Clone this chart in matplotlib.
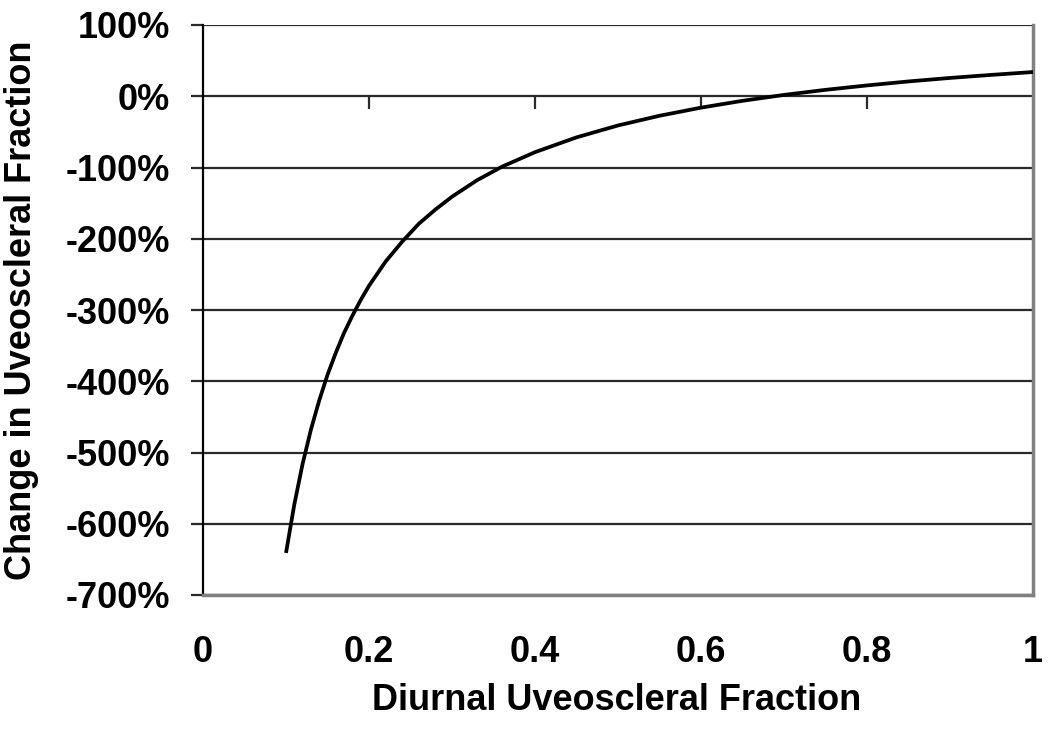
import matplotlib
matplotlib.use("Agg")
import matplotlib.pyplot as plt

# Data
x_frac = [0.10, 0.11, 0.12, 0.13, 0.14, 0.15, 0.16, 0.17, 0.18, 0.19, 0.20,
          0.22, 0.24, 0.26, 0.28, 0.30, 0.33, 0.36, 0.40, 0.45, 0.50, 0.55,
          0.60, 0.65, 0.70, 0.75, 0.80, 0.85, 0.90, 0.95, 1.00]
y_change = [-6.41, -5.73, -5.16, -4.68, -4.27, -3.91, -3.60, -3.32, -3.08, -2.86, -2.66,
            -2.32, -2.04, -1.79, -1.59, -1.41, -1.18, -0.99, -0.785, -0.577, -0.41, -0.274,
            -0.16, -0.064, 0.019, 0.09, 0.152, 0.208, 0.257, 0.30, 0.34]

x_ticks = [0, 0.2, 0.4, 0.6, 0.8, 1.0]
x_tick_labels = ["0", "0.2", "0.4", "0.6", "0.8", "1"]
y_ticks = [1, 0, -1, -2, -3, -4, -5, -6, -7]
y_tick_labels = ["100%", "0%", "-100%", "-200%", "-300%", "-400%", "-500%", "-600%", "-700%"]

plt.rcParams['font.family'] = ['Liberation Sans', 'DejaVu Sans']
plt.rcParams['font.weight'] = 'bold'

W, H = 1050, 733
fig = plt.figure(figsize=(W / 100, H / 100), dpi=100)
ax = fig.add_axes([203 / W, 1 - 595 / H, (1033 - 203) / W, (595 - 25) / H])

ax.set_xlim(0, 1)
ax.set_ylim(-7, 1)

# gridlines
for yv in y_ticks:
    ax.axhline(yv, color='#2a2a2a', lw=1.6, zorder=1)

# tick marks hanging below the zero line
ax.vlines(x_ticks[1:-1], -0.18, 0, color='#2a2a2a', lw=1.6, zorder=1)

ax.plot(x_frac, y_change, color='black', lw=2.7, zorder=3, solid_capstyle='butt')

ax.spines['top'].set_visible(False)
ax.spines['left'].set_color('black')
ax.spines['left'].set_linewidth(1.6)
ax.spines['right'].set_color('#808080')
ax.spines['right'].set_linewidth(2.5)
ax.spines['bottom'].set_color('#808080')
ax.spines['bottom'].set_linewidth(2.5)

FS = 26
ax.set_yticks(y_ticks)
ax.set_yticklabels(y_tick_labels, fontsize=FS, fontweight='bold')
ax.tick_params(axis='y', length=9, width=1.6, color='#2a2a2a', pad=15)
ax.set_xticks(x_ticks)
ax.set_xticklabels(x_tick_labels, fontsize=FS, fontweight='bold')
ax.tick_params(axis='x', length=0, pad=29)

fig.text(617 / W, 1 - 700 / H, "Diurnal Uveoscleral Fraction", fontsize=FS,
         fontweight='bold', ha='center', va='center')
fig.text(22 / W, 1 - 310 / H, "Change in Uveoscleral Fraction", fontsize=FS,
         fontweight='bold', ha='center', va='center', rotation=90)

fig.savefig("out.png", dpi=100)
